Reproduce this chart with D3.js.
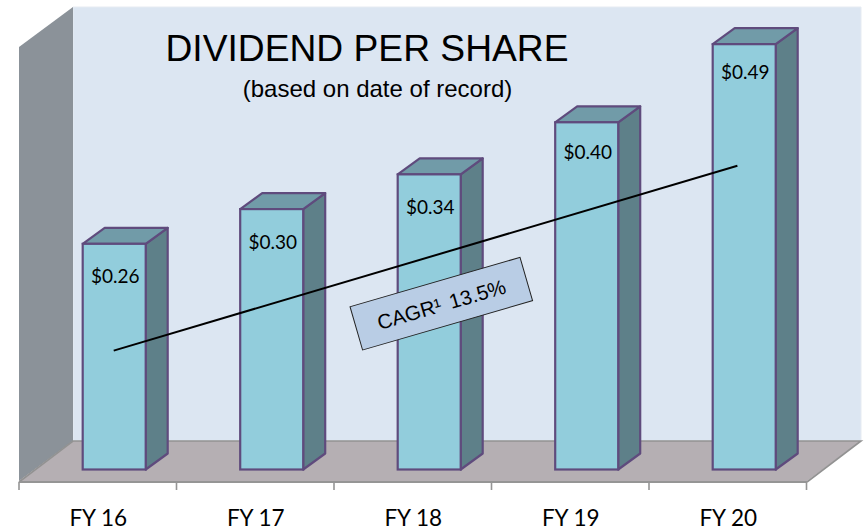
<!DOCTYPE html>
<html><head><meta charset="utf-8">
<script src="https://cdn.jsdelivr.net/npm/d3@7"></script>
<style>html,body{margin:0;padding:0;background:#fff}svg{display:block}</style>
</head><body><svg id="c" width="865" height="530"></svg>
<script>
const categories = ["FY 16","FY 17","FY 18","FY 19","FY 20"];
const dividends = [0.26,0.30,0.34,0.40,0.49];
const valueLabels = ["$0.26","$0.30","$0.34","$0.40","$0.49"];
const trendIndex = [0,3.96];
const trendValues = [0.137,0.350];
const titleText = "DIVIDEND PER SHARE";
const subtitleText = "(based on date of record)";
const cagrText = "CAGR¹ 13.5%";

const svg = d3.select("#c");
const x = d3.scaleBand().domain(categories).range([19,806.5]);
const y = d3.scaleLinear().domain([0,0.5]).range([469.5,35.5]);
const barW = x.bandwidth()*0.4, barOff = x.bandwidth()*0.4+0.7;
const dx = 22, dy = -16;
const labelDrop = [39,40,40,37,35];
const trendX = d3.scaleLinear().domain([0,4]).range([x(categories[0])+barOff+barW/2-0.5, x(categories[4])+barOff+barW/2-0.5]);

const poly = p => "M"+p.map(d=>d.join(",")).join("L")+"Z";
svg.append("path").attr("d",poly([[73,7],[861,7],[861,441],[73,441]])).attr("fill","#dce6f2").attr("stroke","#e6ebf2").attr("stroke-width",1);
svg.append("path").attr("d",poly([[19,47],[73,7],[73,441],[19,481]])).attr("fill","#8b9299");
svg.append("path").attr("d",poly([[19,481],[73,441],[861,441],[807,481]])).attr("fill","#b5afb3");
svg.append("path").attr("d","M19,482L73,441L861,441L807,482").attr("fill","none").attr("stroke","#929292").attr("stroke-width",1.6);

const axisG = svg.append("g").attr("transform","translate(0,482)");
axisG.append("line").attr("x1",19).attr("x2",807).attr("stroke","#959595").attr("stroke-width",2);
const tickVals = categories.map(c=>x(c)).concat([x.range()[1]]);
axisG.selectAll("line.t").data(tickVals).join("line").attr("class","t")
  .attr("x1",d=>d).attr("x2",d=>d).attr("y1",0).attr("y2",8).attr("stroke","#959595").attr("stroke-width",1.6);
axisG.selectAll("text").data(categories).join("text")
  .attr("x",c=>x(c)+x.bandwidth()/2+0.5).attr("y",43.5).attr("text-anchor","middle")
  .attr("font-family","Lato").attr("font-size",22.5).attr("fill","#000").text(c=>c);

const stroke = "#5f4b7d";
const bars = svg.append("g").selectAll("g").data(categories).join("g");
const L = c=>x(c)+barOff, R = c=>L(c)+barW;
const B = y(0);
bars.append("path").attr("d",(c,i)=>poly([[R(c),y(dividends[i])],[R(c)+dx,y(dividends[i])+dy],[R(c)+dx,B+dy],[R(c),B]]))
  .attr("fill","#5e8089").attr("stroke",stroke).attr("stroke-width",2.2).attr("stroke-linejoin","round");
bars.append("path").attr("d",(c,i)=>poly([[L(c),y(dividends[i])],[L(c)+dx,y(dividends[i])+dy],[R(c)+dx,y(dividends[i])+dy],[R(c),y(dividends[i])]]))
  .attr("fill","#719ba8").attr("stroke",stroke).attr("stroke-width",2.2).attr("stroke-linejoin","round");
bars.append("rect").attr("x",c=>L(c)).attr("y",(c,i)=>y(dividends[i])).attr("width",barW).attr("height",(c,i)=>B-y(dividends[i]))
  .attr("fill","#92cddc").attr("stroke",stroke).attr("stroke-width",2.2);
bars.append("text").attr("x",c=>L(c)+barW/2+1).attr("y",(c,i)=>y(dividends[i])+labelDrop[i]).attr("text-anchor","middle")
  .attr("font-family","Lato").attr("font-size",19).attr("fill","#000").text((c,i)=>valueLabels[i]);

svg.append("path").datum(trendIndex.map((t,i)=>[trendX(t),y(trendValues[i])]))
  .attr("d",d3.line()).attr("fill","none").attr("stroke","#000").attr("stroke-width",2);

svg.append("text").attr("x",367).attr("y",60.5).attr("text-anchor","middle").attr("font-family","Liberation Sans")
  .attr("font-size",37.2).attr("fill","#000").text(titleText);
svg.append("text").attr("x",377.5).attr("y",97).attr("text-anchor","middle").attr("font-family","Liberation Sans")
  .attr("font-size",24).attr("fill","#000").text(subtitleText);

const g = svg.append("g").attr("transform","translate(441.3,303.7) rotate(-16.2)");
g.append("rect").attr("x",-88.5).attr("y",-22.5).attr("width",177).attr("height",45)
  .attr("fill","#b9cde5").attr("stroke","#222").attr("stroke-width",1);
g.append("text").attr("y",8).attr("text-anchor","middle").attr("font-family","Liberation Sans")
  .attr("font-size",20.5).attr("word-spacing",3).attr("fill","#000").text(cagrText);
</script></body></html>
